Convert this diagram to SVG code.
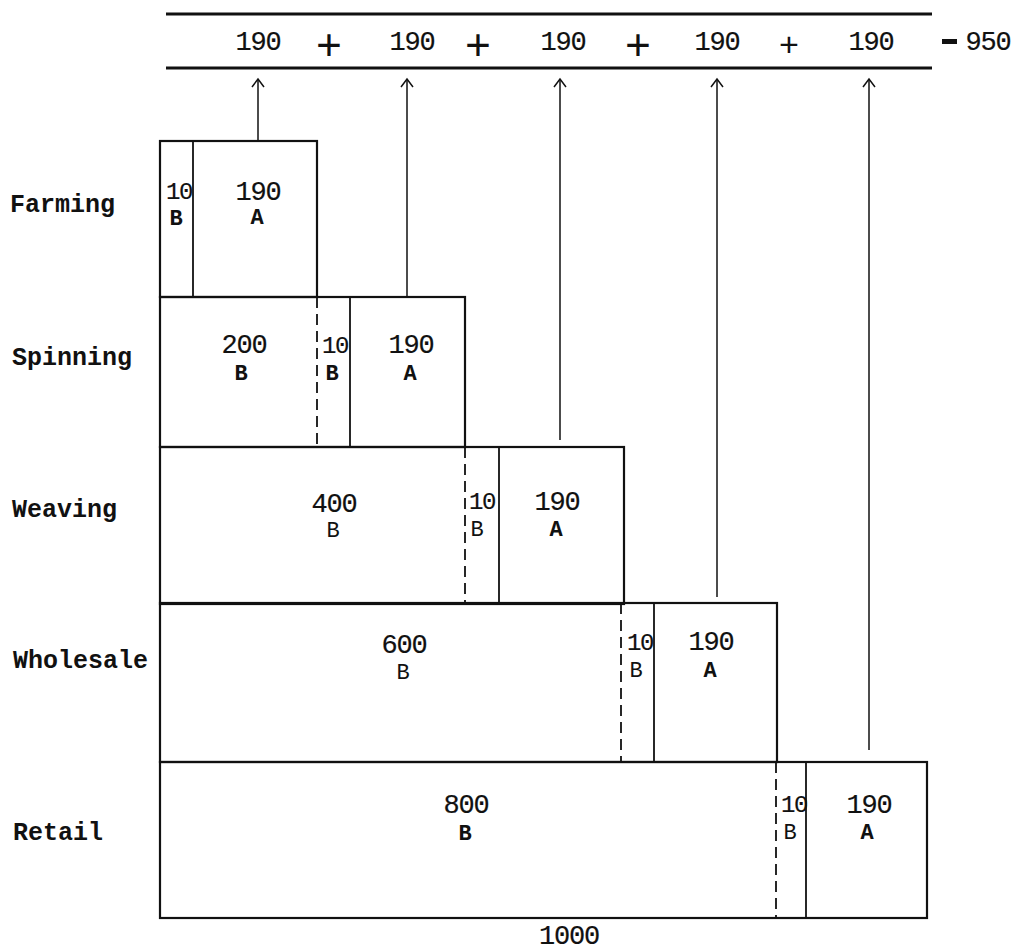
<svg xmlns="http://www.w3.org/2000/svg" width="1021" height="951" viewBox="0 0 1021 951">
<defs>
<marker id="ah" viewBox="-10 -8 12 16" refX="0" refY="0" markerWidth="12" markerHeight="16" markerUnits="userSpaceOnUse" orient="auto">
<path d="M-8,-6 L0,0 L-8,6" fill="none" stroke="#111" stroke-width="1.5"/>
</marker>
</defs>
<style>
.bg{fill:#fff}
.rule{stroke:#111;stroke-width:3}
.box{fill:none;stroke:#111;stroke-width:2.2}
.sep{stroke:#111;stroke-width:1.8}
.dash{stroke:#111;stroke-width:1.8;stroke-dasharray:11 6}
.arrow{stroke:#111;stroke-width:1.5;fill:none;marker-end:url(#ah)}
.num{font-family:"Liberation Mono",monospace;font-size:27px;fill:#111;stroke:#111;stroke-width:0.2;text-anchor:middle;letter-spacing:-1.2px}
.narrow{font-size:24px;letter-spacing:-1.5px}
.let{font-family:"Liberation Mono",monospace;font-size:22px;fill:#111;text-anchor:middle}
.bold{font-weight:bold}
.lbl{font-family:"Liberation Mono",monospace;font-size:25px;font-weight:bold;fill:#111}
.plus{font-family:"Liberation Mono",monospace;font-size:44px;fill:#111;text-anchor:middle}
</style>
<rect class="bg" x="0" y="0" width="1021" height="951"/>

<g id="sum">
<line class="rule" x1="166" y1="14" x2="932" y2="14"/>
<line class="rule" x1="166" y1="68" x2="932" y2="68"/>
<text class="num" x="258" y="50">190</text>
<text class="plus" x="329" y="60">+</text>
<text class="num" x="412" y="50">190</text>
<text class="plus" x="478" y="60">+</text>
<text class="num" x="563" y="50">190</text>
<text class="plus" x="638" y="60">+</text>
<text class="num" x="717" y="50">190</text>
<text class="plus" x="789" y="56" style="font-size:34px">+</text>
<text class="num" x="871" y="50">190</text>
<rect x="942" y="39" width="15" height="5" fill="#111"/>
<text class="num" x="988" y="50">950</text>
</g>

<g id="farming">
<text class="lbl" x="10" y="212">Farming</text>
<rect class="box" x="160" y="141" width="157" height="156"/>
<line class="sep" x1="193" y1="141" x2="193" y2="297"/>
<text class="num narrow" x="179" y="199">10</text>
<text class="let bold" x="176" y="225">B</text>
<text class="num" x="258" y="200">190</text>
<text class="let bold" x="257" y="224">A</text>
</g>

<g id="spinning">
<text class="lbl" x="12" y="365">Spinning</text>
<rect class="box" x="160" y="297" width="305" height="150"/>
<line class="dash" x1="317" y1="297" x2="317" y2="447"/>
<line class="sep" x1="350" y1="297" x2="350" y2="447"/>
<text class="num" x="244" y="353">200</text>
<text class="let bold" x="241" y="380">B</text>
<text class="num narrow" x="335" y="353">10</text>
<text class="let bold" x="332" y="380">B</text>
<text class="num" x="411" y="353">190</text>
<text class="let bold" x="410" y="380">A</text>
</g>

<g id="weaving">
<text class="lbl" x="12" y="517">Weaving</text>
<rect class="box" x="160" y="447" width="464" height="157"/>
<line class="dash" x1="465" y1="447" x2="465" y2="604"/>
<line class="sep" x1="499" y1="447" x2="499" y2="604"/>
<text class="num" x="334" y="512">400</text>
<text class="let" x="333" y="537">B</text>
<text class="num narrow" x="482" y="509">10</text>
<text class="let" x="477" y="536">B</text>
<text class="num" x="557" y="510">190</text>
<text class="let bold" x="556" y="536">A</text>
</g>

<g id="wholesale">
<text class="lbl" x="13" y="668">Wholesale</text>
<rect class="box" x="160" y="603" width="617" height="159"/>
<line class="dash" x1="621" y1="603" x2="621" y2="762"/>
<line class="sep" x1="654" y1="603" x2="654" y2="762"/>
<text class="num" x="404" y="653">600</text>
<text class="let" x="403" y="679">B</text>
<text class="num narrow" x="640" y="650">10</text>
<text class="let" x="636" y="677">B</text>
<text class="num" x="711" y="650">190</text>
<text class="let bold" x="710" y="677">A</text>
</g>

<g id="retail">
<text class="lbl" x="13" y="840">Retail</text>
<rect class="box" x="160" y="762" width="767" height="156"/>
<line class="dash" x1="776" y1="762" x2="776" y2="918"/>
<line class="sep" x1="806" y1="762" x2="806" y2="918"/>
<text class="num" x="466" y="813">800</text>
<text class="let bold" x="465" y="840">B</text>
<text class="num narrow" x="794" y="812">10</text>
<text class="let" x="790" y="839">B</text>
<text class="num" x="869" y="813">190</text>
<text class="let bold" x="867" y="839">A</text>
</g>

<g id="total">
<text class="num" x="569" y="944">1000</text>
</g>

<g id="connectors">
<line class="arrow" x1="258" y1="141" x2="258" y2="79"/>
<line class="arrow" x1="407" y1="297" x2="407" y2="79"/>
<line class="arrow" x1="560" y1="440" x2="560" y2="79"/>
<line class="arrow" x1="717" y1="597" x2="717" y2="79"/>
<line class="arrow" x1="869" y1="750" x2="869" y2="79"/>
</g>
</svg>
